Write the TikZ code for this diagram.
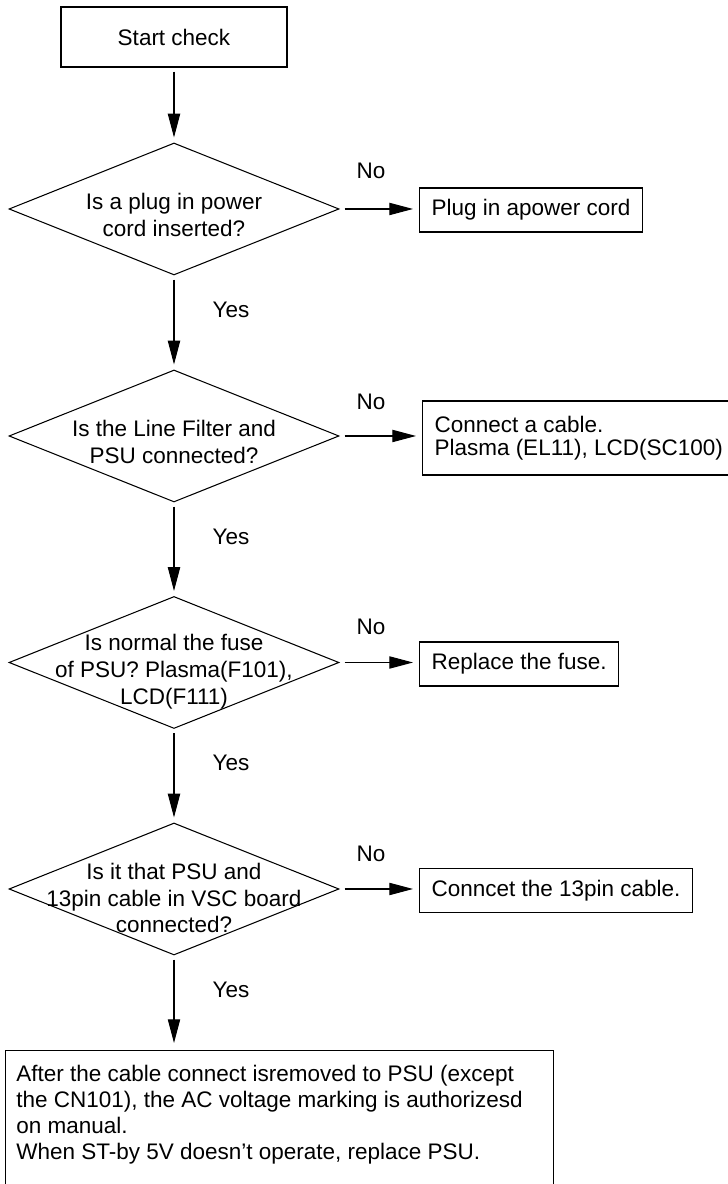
\documentclass[tikz,border=0pt]{standalone}
\usepackage{fontspec}
\setmainfont{Liberation Sans}
\usetikzlibrary{shapes.geometric,arrows.meta}

\tikzset{
  every node/.style={font=\fontsize{12.8}{15.3}\selectfont},
  process/.style={draw, line width=0.6pt, inner xsep=0.24cm, minimum height=0.88cm},
  decision/.style={draw, diamond, line width=0.6pt, minimum width=6.6cm, minimum height=2.64cm, inner sep=0pt},
  qtext/.style={align=center, inner sep=0pt},
  flow/.style={-{Triangle[length=13.5pt,width=7pt]}, line width=0.6pt, shorten <=0.08cm, shorten >=0.1cm},
}

\begin{document}
\begin{tikzpicture}
\useasboundingbox (0,0) rectangle (14.56,23.68);
\clip (0,0) rectangle (14.56,23.68);
% Start
\node[process, minimum width=4.52cm, minimum height=1.2cm] (start) at (3.48,22.94) {Start check};
% The four questions
\node[decision] (q1) at (3.48,19.5) {};
\node[qtext] (q1t) at (3.48,19.38) {Is a plug in power\\cord inserted?};
\node[decision] (q2) at (3.48,14.96) {};
\node[qtext] (q2t) at (3.48,14.84) {Is the Line Filter and\\PSU connected?};
\node[decision] (q3) at (3.48,10.43) {};
\node[qtext] (q3t) at (3.48,10.25) {Is normal the fuse\\of PSU? Plasma(F101),\\LCD(F111)};
\node[decision] (q4) at (3.48,5.9) {};
\node[qtext] (q4t) at (3.48,5.72) {Is it that PSU and\\13pin cable in VSC board\\connected?};
% What to do on "No"
\node[process, anchor=west] (b1) at (8.38,19.48) {Plug in apower cord};
\node[process, anchor=west, align=left, minimum height=1.48cm,
      font=\fontsize{12.8}{13.3}\selectfont] (b2) at (8.44,14.92) {Connect a cable.\\Plasma (EL11), LCD(SC100)};
\node[process, anchor=west] (b3) at (8.38,10.4) {Replace the fuse.};
\node[process, anchor=west] (b4) at (8.38,5.87) {Conncet the 13pin cable.};
% Last step (box runs off the bottom)
\node[process, anchor=north west, minimum width=10.96cm, minimum height=3cm] (fin) at (0.1,2.68) {};
\node[anchor=north west, align=left, inner sep=0pt,
      font=\fontsize{12.8}{14.7}\selectfont] (fint) at ([xshift=0.22cm,yshift=-0.3cm]fin.north west)
  {After the cable connect isremoved to PSU (except\\the CN101), the AC voltage marking is authorizesd\\on manual.\\When ST-by 5V doesn't operate, replace PSU.};
% Labels
\node (no1) at (7.42,20.26) {No};
\node (no2) at (7.42,15.64) {No};
\node (no3) at (7.42,11.14) {No};
\node (no4) at (7.42,6.6) {No};
\node (yes1) at (4.62,17.48) {Yes};
\node (yes2) at (4.62,12.94) {Yes};
\node (yes3) at (4.62,8.42) {Yes};
\node (yes4) at (4.62,3.88) {Yes};
% Arrows
\draw[flow] (start) -- (q1);
\draw[flow] (q1) -- (q2);
\draw[flow] (q2) -- (q3);
\draw[flow] (q3) -- (q4);
\draw[flow, shorten >=0.14cm] (q4.south) -- (q4.south |- fin.north);
\draw[flow, shorten <=0.1cm, shorten >=0.12cm] (q1.east) -- (q1.east -| b1.west);
\draw[flow, shorten <=0.1cm, shorten >=0.12cm] (q2.east) -- (q2.east -| b2.west);
\draw[flow, shorten <=0.1cm, shorten >=0.12cm] (q3.east) -- (q3.east -| b3.west);
\draw[flow, shorten <=0.1cm, shorten >=0.12cm] (q4.east) -- (q4.east -| b4.west);
\end{tikzpicture}
\end{document}
